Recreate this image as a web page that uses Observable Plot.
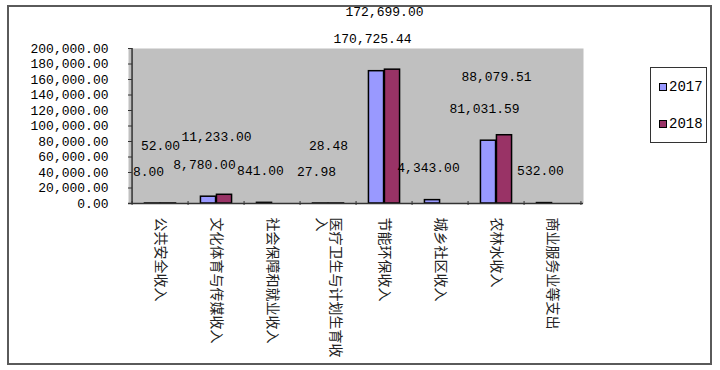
<!DOCTYPE html>
<html>
<head>
<meta charset="utf-8">
<script src="https://cdn.jsdelivr.net/npm/d3@7"></script>
<script src="https://cdn.jsdelivr.net/npm/@observablehq/plot@0.6"></script>
<style>
  body { margin: 0; background: #fff; }
  #wrap { position: relative; width: 720px; height: 370px; overflow: hidden; background: #fff; }
  #wrap svg { position: absolute; left: 0; top: 0; }
  #border { position: absolute; left: 7px; top: 5px; width: 701px; height: 356px; border: 2px solid #5a5a5a; pointer-events: none; }
  #legend { position: absolute; left: 650px; top: 67px; width: 57px; height: 76px; box-sizing: border-box; border: 1px solid #333; background: #fff; }
  #legend .item { position: absolute; left: 8px; height: 16px; display: flex; align-items: center; font-family: "Liberation Mono", monospace; font-size: 14px; color: #000; }
  #legend .sw { width: 6px; height: 6px; border: 1px solid #000; margin-right: 2px; }
</style>
</head>
<body>
<div id="wrap"><div id="border"></div></div>
<script>
// ---- data ----
const categories = ["公共安全收入", "文化体育与传媒收入", "社会保障和就业收入", "医疗卫生与计划生育收入", "节能环保收入", "城乡社区收入", "农林水收入", "商业服务业等支出"];
const series = ["2017", "2018"];
const values2017 = [8.00, 8780.00, 841.00, 27.98, 170725.44, 4343.00, 81031.59, 532.00];
const values2018 = [52.00, 11233.00, null, 28.48, 172699.00, null, 88079.51, null];
const yTicks = [0, 20000, 40000, 60000, 80000, 100000, 120000, 140000, 160000, 180000, 200000];
const colors = ["#9999FF", "#993366"];

// ---- layout ----
const W = 720, H = 370, mL = 128, mR = 137, mT = 48, mB = 167;
const step = (W - mL - mR) / categories.length;
const barW = 16;
const fmt = d3.format(",.2f");
const mono = "Liberation Mono, DejaVu Sans Mono, monospace";

const rows = (vals) => categories.map((c, i) => ({category: c, value: vals[i]})).filter(d => d.value != null);
const rows2017 = rows(values2017);
const rows2018 = rows(values2018);
const wrapLabel = (s) => s.length > 10 ? s.slice(0, 10) + "\n" + s.slice(10) : s;

const chart = Plot.plot({
  width: W, height: H,
  marginLeft: mL, marginRight: mR, marginTop: mT, marginBottom: mB,
  style: {fontFamily: mono, fontSize: "13px", color: "#000", background: "transparent"},
  x: {type: "band", domain: categories, padding: 0, label: null},
  y: {domain: [0, 200000], label: null},
  marks: [
    Plot.frame({fill: "#C0C0C0", stroke: "none"}),
    Plot.barY(rows2017, {x: "category", y: "value", fill: colors[0], stroke: "#000", strokeWidth: 1.5,
      insetLeft: step / 2 - barW, insetRight: step / 2}),
    Plot.barY(rows2018, {x: "category", y: "value", fill: colors[1], stroke: "#000", strokeWidth: 1.5,
      insetLeft: step / 2, insetRight: step / 2 - barW}),
    Plot.ruleY([0], {stroke: "#333", strokeWidth: 1.5}),
    Plot.ruleX([categories[0]], {dx: -step / 2, y1: 0, y2: 200000, stroke: "#333", strokeWidth: 1.5}),
    Plot.axisY(yTicks, {tickSize: -4, tickPadding: 24, tickFormat: fmt, fontSize: 13, fontFamily: mono, stroke: "#333", label: null}),
    Plot.axisX(categories, {tickSize: 4, dx: -step / 2, dy: -2, fill: "none", stroke: "#333", label: null}),
    Plot.axisX([categories[categories.length - 1]], {tickSize: 4, dx: step / 2, dy: -2, fill: "none", stroke: "#333", label: null}),
    Plot.text(categories, {x: d => d, text: wrapLabel, frameAnchor: "bottom", rotate: 90, textAnchor: "start",
      lineAnchor: "middle", dy: 14, fontFamily: "Noto Sans CJK SC", fontSize: 14, fill: "#222"}),
    Plot.text(rows2017, {x: "category", y: "value", text: d => fmt(d.value), dx: -12, dy: -32, fontSize: 13, fontFamily: mono, fill: "#000"}),
    Plot.text(rows2018, {x: "category", y: "value", text: d => fmt(d.value), dx: 0, dy: -58, fontSize: 13, fontFamily: mono, fill: "#000"})
  ]
});
const wrap = document.getElementById("wrap");
wrap.insertBefore(chart, wrap.firstChild);

// legend
const legend = document.createElement("div");
legend.id = "legend";
series.forEach((s, i) => {
  const item = document.createElement("div");
  item.className = "item";
  item.style.top = (11 + i * 37) + "px";
  const sw = document.createElement("div");
  sw.className = "sw";
  sw.style.background = colors[i];
  item.appendChild(sw);
  item.appendChild(document.createTextNode(s));
  legend.appendChild(item);
});
wrap.appendChild(legend);
</script>
</body>
</html>
